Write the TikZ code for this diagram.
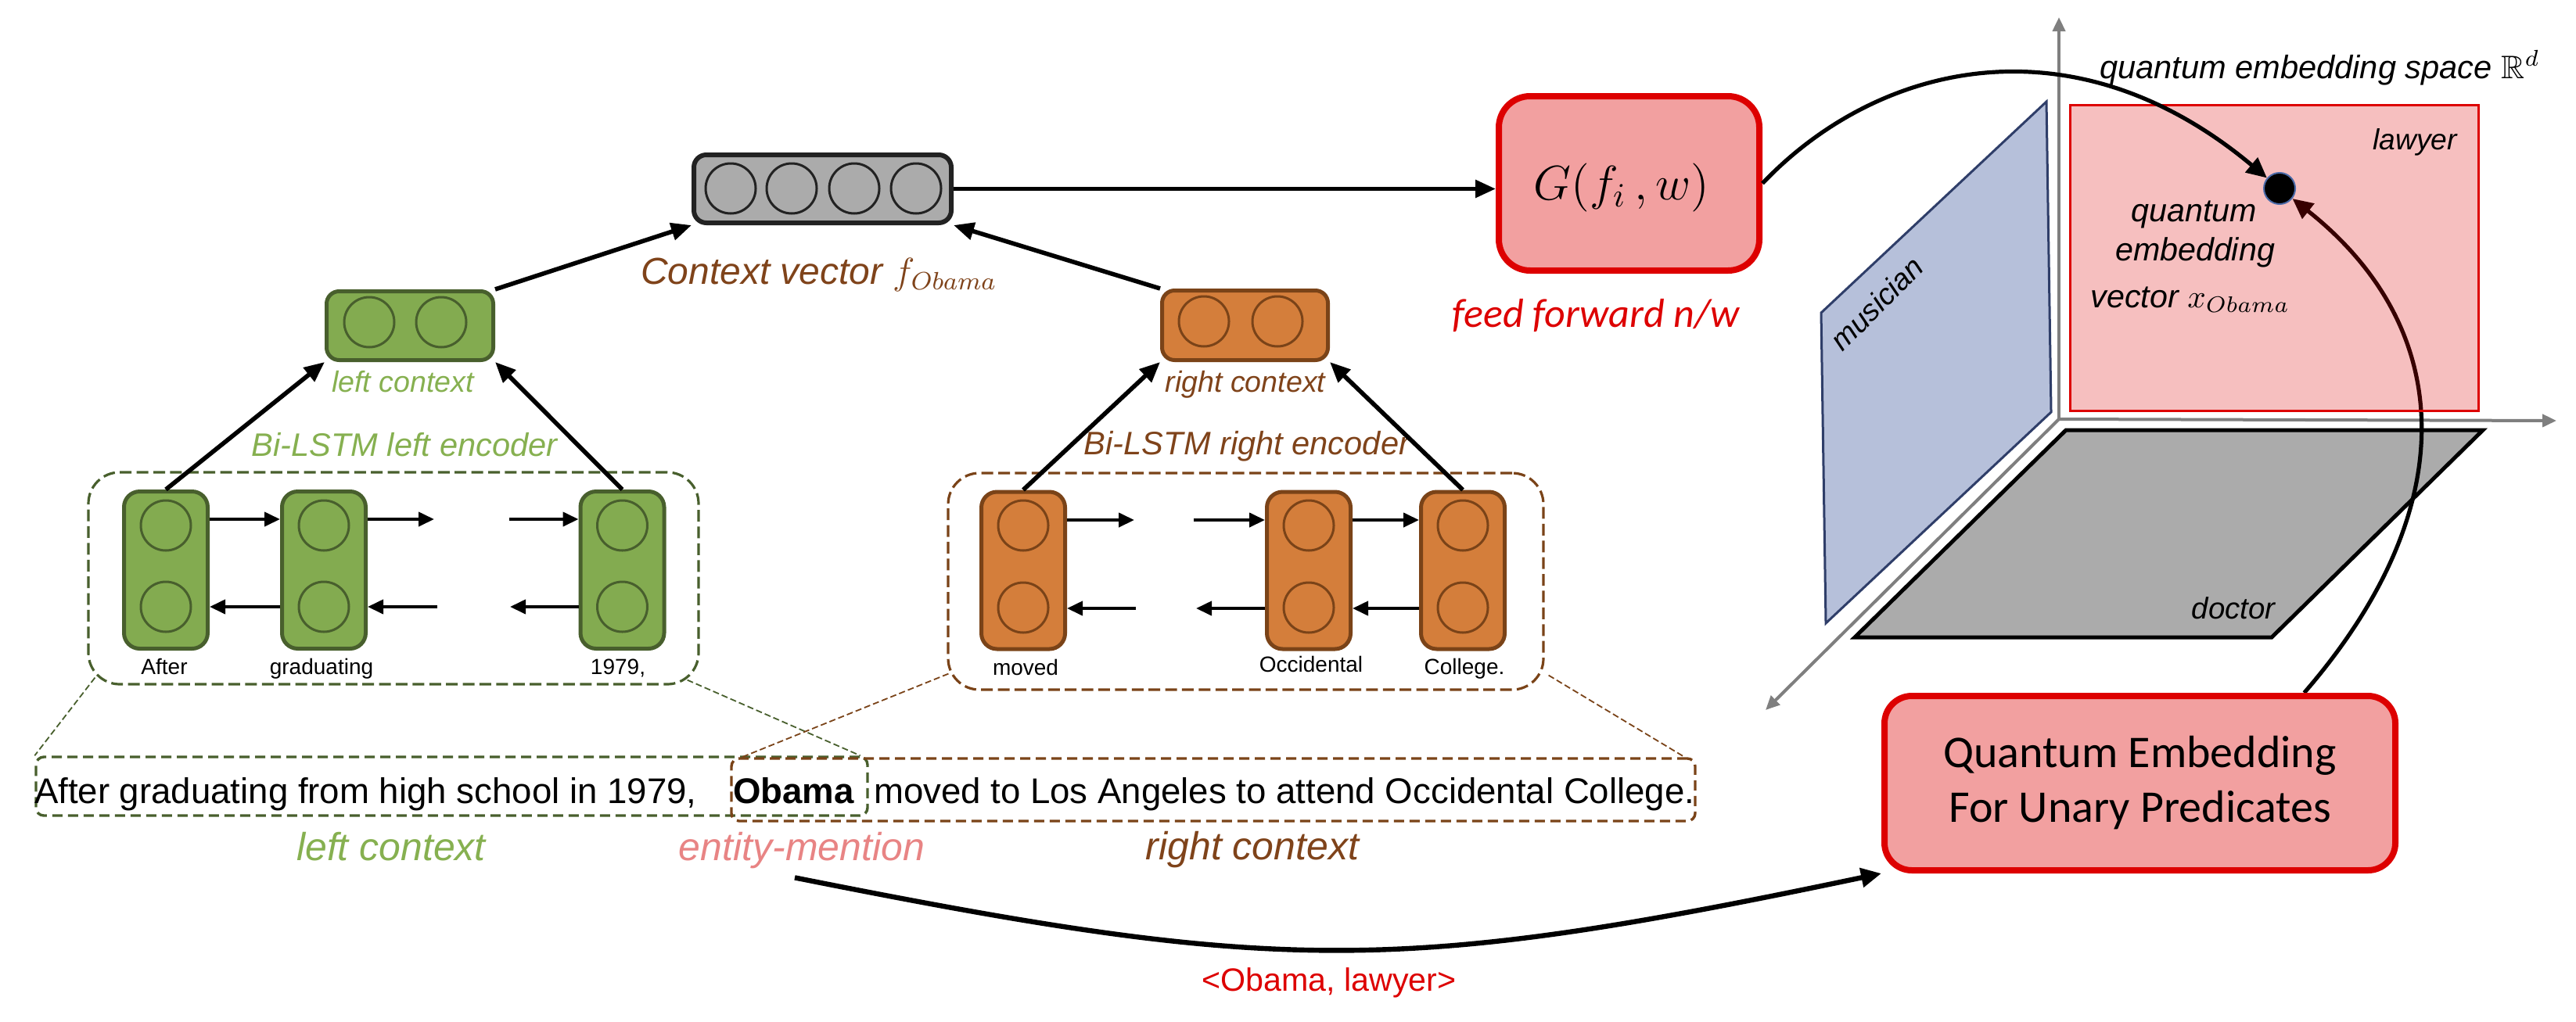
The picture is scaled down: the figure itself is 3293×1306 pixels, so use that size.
\RequirePackage{fix-cm}
\documentclass[tikz,border=0pt]{standalone}
\usepackage{amssymb}
\usepackage{fontspec}
\setmainfont{Liberation Sans}
\newfontfamily\calib{Carlito}
\usetikzlibrary{arrows.meta,calc}
\pgfdeclarelayer{lower}
\pgfdeclarelayer{tint}
\pgfsetlayers{lower,tint,main}
\definecolor{gfill}{HTML}{83AB50}
\definecolor{gdark}{HTML}{485F2D}
\definecolor{gtext}{HTML}{86B050}
\definecolor{ofill}{HTML}{D47E3B}
\definecolor{odark}{HTML}{7A4318}
\definecolor{btext}{HTML}{7F431A}
\definecolor{cvfill}{HTML}{ABABAB}
\definecolor{cvdark}{HTML}{222222}
\definecolor{rfill}{HTML}{F2A0A0}
\definecolor{rdark}{HTML}{DD0000}
\definecolor{ptext}{HTML}{E88484}
\definecolor{bfill}{HTML}{B6C0DA}
\definecolor{bdark}{HTML}{2F3E69}
\definecolor{axisc}{HTML}{7F7F7F}
\definecolor{dotblue}{HTML}{4A6AA8}
\newcommand\fsz[1]{\fontsize{#1}{#1}\selectfont}
\begin{document}
\begin{tikzpicture}[x=0.25pt,y=-0.25pt,
  txt/.style={inner sep=0pt,outer sep=0pt,anchor=base},
  arr/.style={line width=1.4pt,-{Triangle[length=6.5pt,width=5.5pt]}},
  fwd/.style={line width=1pt,-{Triangle[length=5pt,width=4.5pt]}},
  circ/.style={circle,draw=#1,line width=0.75pt,minimum size=16pt,inner sep=0pt},
  gcell/.style={draw=gdark,fill=gfill,line width=1.25pt,rounded corners=5pt,minimum width=26.75pt,minimum height=50.25pt,inner sep=0pt},
  ocell/.style={gcell,draw=odark,fill=ofill},
  gbox/.style={draw=gdark,fill=gfill,line width=1.25pt,rounded corners=4pt,minimum width=53.25pt,minimum height=22pt,inner sep=0pt},
  obox/.style={gbox,draw=odark,fill=ofill,minimum width=53pt,minimum height=22.25pt},
  cvbox/.style={draw=cvdark,fill=cvfill,line width=1.5pt,rounded corners=4pt,minimum width=82.25pt,minimum height=21.75pt,inner sep=0pt},
  redbox/.style={draw=rdark,fill=rfill,line width=2pt,rounded corners=10pt,inner sep=0pt},
  encbox/.style={draw=#1,line width=0.8pt,dash pattern=on 3.75pt off 1.6pt,rounded corners=10pt,inner sep=0pt},
  sentbox/.style={draw=#1,line width=0.85pt,dash pattern=on 3.25pt off 1.75pt,rounded corners=2.5pt,inner sep=0pt},
  thindash/.style={draw=#1,line width=0.45pt,dash pattern=on 2pt off 1pt},
  axisline/.style={draw=axisc,line width=1pt,-{Triangle[length=4.5pt,width=4pt]}},
  curvearr/.style={line width=1.3pt,-{Triangle[length=6.5pt,width=6pt]}}
]
\useasboundingbox (0,0) rectangle (3293,1306);

% ---------- context vector (gray)
\node[cvbox] (cv) at (1051.5,241.5) {};
\foreach \x/\n in {934/1,1012/2,1092/3,1171/4}
  \node[circ=cvdark] (cv\n) at (\x,241) {};
\node[txt,anchor=base west,text=btext] (cvlab) at (819,363)
  {\fsz{12}\itshape Context vector $f_{Obama}$};

% ---------- left / right context vectors
\node[gbox] (lctx) at (524,416.5) {};
\node[circ=gdark] (lctxa) at (472,412) {};
\node[circ=gdark] (lctxb) at (564,412) {};
\node[txt,text=gtext] (lctxlab) at (515,501) {\fsz{9.4}\itshape left context};

\node[obox] (rctx) at (1591.5,416) {};
\node[circ=odark] (rctxa) at (1539,411) {};
\node[circ=odark] (rctxb) at (1633,411) {};
\node[txt,text=btext] (rctxlab) at (1592,501) {\fsz{9.4}\itshape right context};

% ---------- encoder labels and boxes
\node[txt,text=gtext] (lenclab) at (517,583) {\fsz{10.4}\itshape Bi-LSTM left encoder};
\node[txt,text=btext] (renclab) at (1594,581) {\fsz{10.4}\itshape Bi-LSTM right encoder};
\node[encbox=gdark,minimum width=195pt,minimum height=67.75pt] (lenc) at (503,739.5) {};
\node[encbox=odark,minimum width=190.25pt,minimum height=69.25pt] (renc) at (1592.5,743.5) {};

% ---------- left cells
\node[gcell] (lc1) at (212,729) {};
\node[gcell] (lc2) at (414,729) {};
\node[gcell] (lc3) at (795.5,729) {};
\foreach \c in {lc1,lc2,lc3}{
  \node[circ=gdark] (\c t) at ($(\c)+(0,-57)$) {};
  \node[circ=gdark] (\c b) at ($(\c)+(0,47)$) {};
}
\node[txt] (lw1) at (210,862) {\fsz{7}After};
\node[txt] (lw2) at (411,862) {\fsz{7}graduating};
\node[txt] (lw3) at (790,862) {\fsz{7}1979,};

% ---------- right cells
\node[ocell] (rc1) at (1308,729.5) {};
\node[ocell] (rc2) at (1673,729.5) {};
\node[ocell] (rc3) at (1870,729.5) {};
\foreach \c in {rc1,rc2,rc3}{
  \node[circ=odark] (\c t) at ($(\c)+(0,-57.5)$) {};
  \node[circ=odark] (\c b) at ($(\c)+(0,47.5)$) {};
}
\node[txt] (rw1) at (1311,863) {\fsz{7}moved};
\node[txt] (rw2) at (1676,859) {\fsz{7}Occidental};
\node[txt] (rw3) at (1872,862) {\fsz{7}College.};

% ---------- recurrent arrows (left)
\coordinate (lf2) at (555,664);
\coordinate (lf3) at (651,664);
\coordinate (lb2) at (559,776);
\coordinate (lb3) at (652,776);
\draw[fwd] (lc1.east |- lf2) -- (lc2.west |- lf2);
\draw[fwd] (lc2.east |- lf2) -- (lf2);
\draw[fwd] (lf3) -- (lc3.west |- lf3);
\draw[fwd] (lc2.west |- lb2) -- (lc1.east |- lb2);
\draw[fwd] (lb2) -- (lc2.east |- lb2);
\draw[fwd] (lc3.west |- lb3) -- (lb3);

% ---------- recurrent arrows (right)
\coordinate (rf1) at (1450,665);
\coordinate (rf2) at (1526,665);
\coordinate (rb1) at (1452,778);
\coordinate (rb2) at (1529,778);
\draw[fwd] (rc1.east |- rf1) -- (rf1);
\draw[fwd] (rf2) -- (rc2.west |- rf2);
\draw[fwd] (rc2.east |- rf2) -- (rc3.west |- rf2);
\draw[fwd] (rb1) -- (rc1.east |- rb1);
\draw[fwd] (rc2.west |- rb2) -- (rb2);
\draw[fwd] (rc3.west |- rb2) -- (rc2.east |- rb2);

% ---------- upward arrows
\draw[arr] (lc1.north) -- (lctx.south west);
\draw[arr] (lc3.north) -- (lctx.south east);
\draw[arr] (lctx.north east) -- (cv.south west);
\draw[arr] (rc1.north) -- (rctx.south west);
\draw[arr] (rc3.north) -- (rctx.south east);
\draw[arr] (rctx.north west) -- (cv.south east);

% ---------- G box
\node[redbox,minimum width=83.25pt,minimum height=55.75pt] (G) at (2082.5,234.5) {};
\node[txt,anchor=center] (Gtxt) at (2073,240) {\fsz{15.5}$G(f_i\,,w)$};
\node[txt,text=rdark] (fflab) at (2040,418) {\fsz{13}\calib\itshape feed forward n/w};
\draw[arr] (cv.east) -- (cv.east -| G.west);

% ---------- sentence
\node[sentbox=gdark,minimum width=265.75pt,minimum height=18.75pt] (lsent) at (577.5,1005.5) {};
\node[sentbox=odark,minimum width=308pt,minimum height=20pt] (rsent) at (1551,1010) {};
\node[txt,anchor=base west] (s1) at (44,1027) {\fsz{11.4}After graduating from high school in 1979,};
\node[txt,anchor=base west] (s2) at (937,1027) {\fsz{11.4}\bfseries Obama};
\node[txt,anchor=base west] (s3) at (1117,1027) {\fsz{11.4}moved to Los Angeles to attend Occidental College.};
\node[txt,text=gtext] (llab) at (500,1100) {\fsz{12.5}\itshape left context};
\node[txt,text=ptext] (em) at (1025,1100) {\fsz{12.5}\itshape entity-mention};
\node[txt,text=btext] (rlab) at (1601,1099) {\fsz{12.5}\itshape right context};

% zoom lines
\draw[thindash=gdark] ($(lenc.south west)+(10,-10)$) -- (lsent.north west);
\draw[thindash=gdark] ($(lenc.south east)+(-16,-7)$) -- ($(lsent.north east)+(-11,0)$);
\draw[thindash=odark] ($(renc.south west)+(2,-22)$) -- ($(rsent.north west)+(15,0)$);
\draw[thindash=odark] ($(renc.south east)+(5,-20)$) -- ($(rsent.north east)+(-15,0)$);

% ---------- QE box
\node[redbox,minimum width=163.25pt,minimum height=55.75pt,rounded corners=8.75pt,align=center,
  font=\calib\fontsize{14.5}{17.5}\selectfont] (QE) at (2735.5,1001.5)
  {Quantum Embedding\\For Unary Predicates};
\draw[curvearr,line width=1.6pt] ($(em.south)+(-9,12)$) .. controls (1636,1246) and (1786,1247) .. (QE.south west);
\node[txt,text=rdark] (ol) at (1699,1267) {\fsz{10.3}<Obama, lawyer>};

% ---------- 3D embedding space
\coordinate (O) at (2632,536);
\node[circle,fill=black,draw=dotblue,line width=0.5pt,minimum size=10pt,inner sep=0pt] (dot) at (2914,241) {};
\begin{pgfonlayer}{lower}
  \draw[axisline] (O) -- (2632,22);
  \draw[axisline] (O) -- (3268,538);
  \draw[axisline] (O) -- (2257,908);
  \draw[fill=bfill,draw=bdark,line width=0.75pt] (2328,400) -- (2616,130) -- (2622,527) -- (2334,797) -- cycle;
  \draw[fill=cvfill,draw=black,line width=1.25pt] (2641,550) -- (3174,550) -- (2904,815) -- (2371,815) -- cycle;
  \draw[curvearr] ($(QE.north)+(210,0)$) .. controls (3150,650) and (3140,420) .. (dot);
\end{pgfonlayer}
\begin{pgfonlayer}{tint}
  \draw[draw=rdark,line width=0.75pt,fill=rdark,fill opacity=0.25] (2646,134) rectangle (3168,525);
\end{pgfonlayer}
\draw[curvearr] (G.east) .. controls (2400,80) and (2650,20) .. (dot);

\node[txt,anchor=base west] (space) at (2684,100) {\fsz{10.4}\itshape quantum embedding space $\mathbb{R}^d$};
\node[txt] (law) at (3087,191) {\fsz{9.3}\itshape lawyer};
\node[txt] (doc) at (2855,791) {\fsz{9.6}\itshape doctor};
\node[inner sep=0pt,rotate=45] (mus) at (2399,388) {\fsz{9.5}\itshape musician};
\node[txt] (q1) at (2805,283) {\fsz{10.3}\itshape quantum};
\node[txt] (q2) at (2806,333) {\fsz{10.3}\itshape embedding};
\node[txt] (q3) at (2800,393) {\fsz{10.3}\itshape vector $x_{Obama}$};
\end{tikzpicture}
\end{document}
